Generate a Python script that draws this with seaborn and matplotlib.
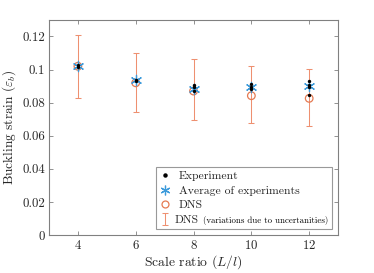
import numpy as np
import pandas as pd
import matplotlib
matplotlib.use("Agg")
import matplotlib.pyplot as plt
from matplotlib.offsetbox import TextArea
import seaborn as sns

# dados
escalas = [4, 6, 8, 10, 12]
exp_x = [4, 4, 6, 6, 8, 8, 8, 10, 10, 10, 12, 12, 12, 12]
exp_y = [0.1025, 0.1015, 0.0940, 0.0930, 0.0909, 0.0895, 0.0868,
         0.0915, 0.0897, 0.0885, 0.0933, 0.0909, 0.0895, 0.0848]
media_exp = [0.102, 0.0935, 0.0885, 0.0895, 0.0899]
dns = [0.102, 0.092, 0.087, 0.0842, 0.0826]
dns_min = [0.0828, 0.0745, 0.0697, 0.0678, 0.0662]
dns_max = [0.1206, 0.1100, 0.1065, 0.1020, 0.1005]

sns.set_style("ticks")
plt.rcParams['font.family'] = ['cmr10', 'DejaVu Serif']
plt.rcParams['mathtext.fontset'] = 'cm'
plt.rcParams['axes.formatter.use_mathtext'] = True

cinza = '#808080'
azul = '#3D9BDB'
laranja = '#EE9070'

fig = plt.figure(figsize=(3.74, 2.73), dpi=100)
ax = fig.add_axes([0.131, 0.139, 0.773, 0.788])

df_exp = pd.DataFrame({'x': exp_x, 'y': exp_y})
df = pd.DataFrame({'x': escalas, 'media': media_exp, 'dns': dns,
                   'lo': dns_min, 'hi': dns_max})

erro = [df['dns'] - df['lo'], df['hi'] - df['dns']]
barras = ax.errorbar(df['x'], df['dns'], yerr=erro, fmt='none', ecolor=laranja,
                     elinewidth=0.75, capsize=2.5, capthick=0.75, zorder=2)
sns.scatterplot(data=df, x='x', y='dns', ax=ax, marker='o', s=30,
                facecolor='none', edgecolor='#E57A52', linewidth=0.9,
                zorder=3)
sns.scatterplot(data=df, x='x', y='media', ax=ax, marker=(6, 2, 0), s=55,
                color=azul, linewidth=0.9, zorder=4)
sns.scatterplot(data=df_exp, x='x', y='y', ax=ax, marker='o', s=6,
                color='black', edgecolor='black', linewidth=0, zorder=5)

ax.set_xlim(3, 13)
ax.set_ylim(0, 0.13)
ax.set_xticks(escalas)
ax.set_yticks([0, 0.02, 0.04, 0.06, 0.08, 0.1, 0.12])
ax.set_yticklabels(['0', '0.02', '0.04', '0.06', '0.08', '0.1', '0.12'])
ax.set_xlabel(r'Scale ratio $(L/l)$', fontsize=9.8, labelpad=1)
ax.set_ylabel(r'Buckling strain $(\varepsilon_b)$', fontsize=9.6, labelpad=3)

for s in ax.spines.values():
    s.set_color(cinza)
    s.set_linewidth(0.8)
    s.set_visible(True)
ax.tick_params(direction='in', length=3, width=0.6, color=cinza,
               labelsize=9.3, labelcolor='#262626', top=True, right=True, pad=3)

h_exp = plt.Line2D([], [], ls='none', marker='o', ms=2.2, color='black')
h_med = plt.Line2D([], [], ls='none', marker=(6, 2, 0), ms=7, mew=0.9, color=azul)
h_dns = plt.Line2D([], [], ls='none', marker='o', ms=5, mfc='none', mew=0.9,
                   color='#E57A52')
rotulos = ['Experiment', 'Average of experiments', 'DNS', 'DNS']
leg = ax.legend([h_exp, h_med, h_dns, barras], rotulos, loc='lower right',
                bbox_to_anchor=(0.979, 0.028), fontsize=8.4, frameon=True,
                fancybox=False, edgecolor=cinza, handlelength=0.9,
                handletextpad=0.7, borderpad=0.35, labelspacing=0.38,
                borderaxespad=0.0)
leg.get_frame().set_linewidth(0.8)

# texto pequeno junto do ultimo rotulo, dentro da legenda
linha = leg._legend_handle_box.get_children()[0].get_children()[3]
extra = TextArea('(variations due to uncertanities)',
                 textprops=dict(fontsize=6.4, color='black'))
extra.set_figure(fig)
linha.get_children().append(extra)
linha.sep = 3

plt.savefig('out.png', dpi=100)
